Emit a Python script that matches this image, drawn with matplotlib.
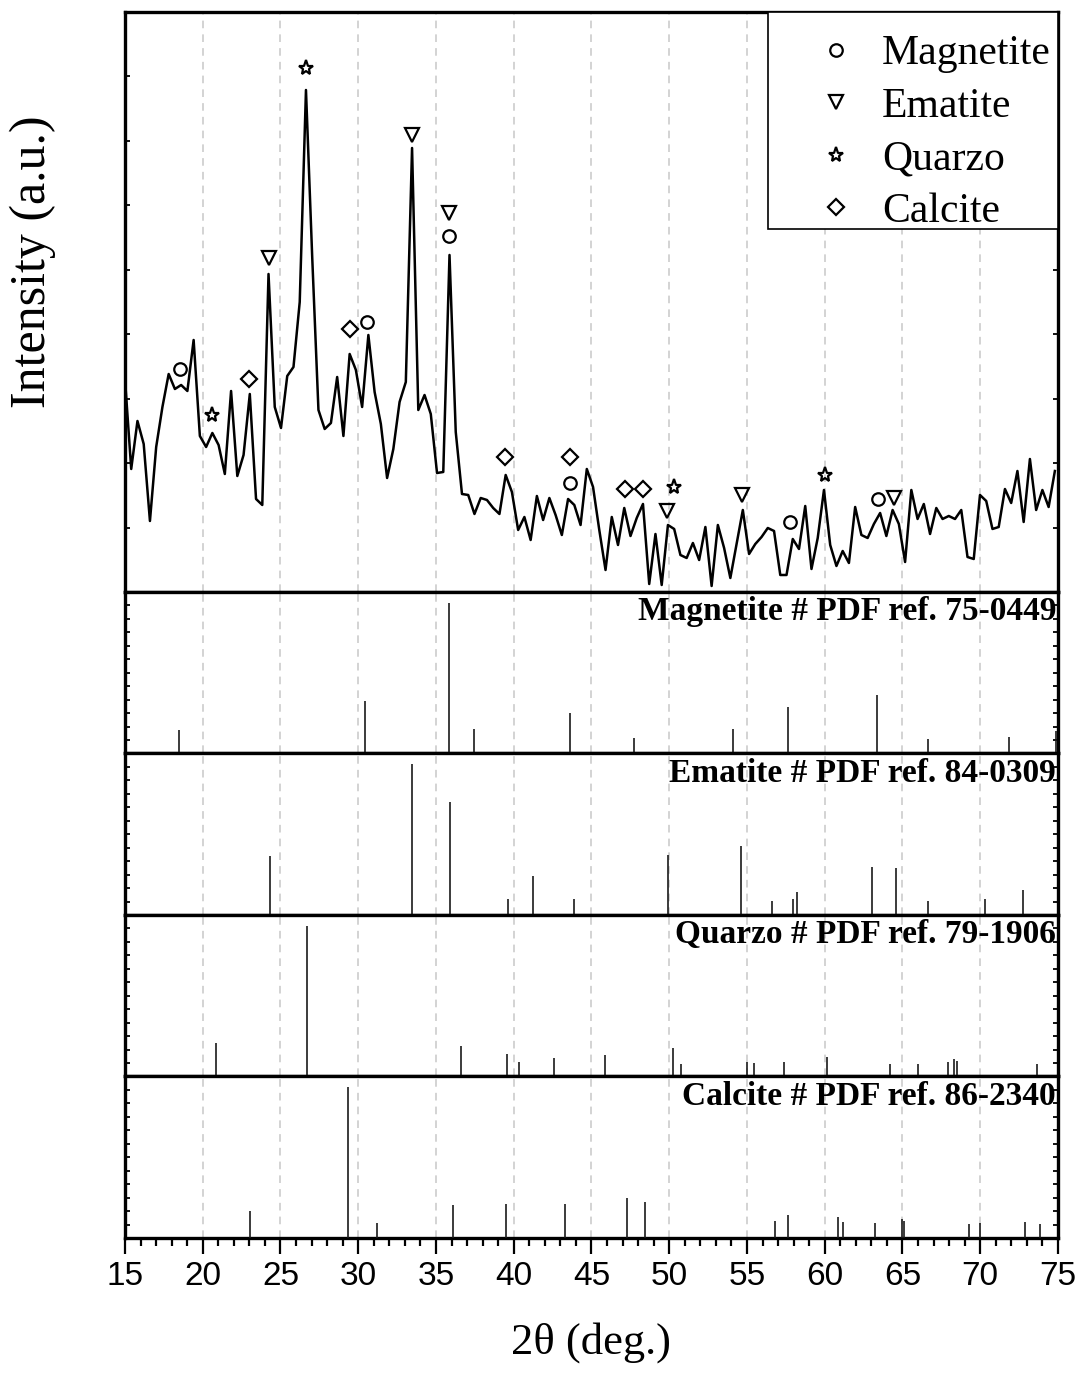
"""XRD pattern with phase markers and PDF reference stick patterns."""

import numpy as np
import matplotlib
matplotlib.use('Agg')
import matplotlib.pyplot as plt
from matplotlib.patches import Rectangle
from matplotlib.ticker import MultipleLocator, LinearLocator

SERIF = 'Liberation Serif'
SANS = 'Liberation Sans'

# =============================================================================
# measured pattern (2theta step ~0.4 deg)
two_theta = np.linspace(15.0, 74.8, 150)
intensity = [213, 123, 171, 148, 71, 145, 185, 218, 203, 207,
             201, 252, 156, 145, 159, 147, 118, 201, 116, 137,
             198, 93, 87, 318, 185, 164, 216, 225, 290, 502,
             335, 182, 163, 169, 215, 156, 238, 222, 185, 257,
             200, 168, 114, 143, 190, 210, 444, 182, 197, 178,
             119, 120, 337, 160, 98, 97, 78, 94, 92, 84,
             78, 117, 100, 62, 75, 52, 96, 72, 94, 77,
             57, 93, 87, 67, 123, 105, 62, 22, 75, 47,
             84, 56, 74, 88, 8, 58, 7, 67, 63, 37,
             34, 49, 32, 65, 6, 67, 44, 14, 48, 82,
             38, 48, 55, 64, 61, 17, 17, 53, 43, 86,
             23, 54, 102, 47, 26, 41, 29, 85, 57, 54,
             68, 79, 56, 82, 68, 30, 102, 73, 88, 58,
             84, 73, 76, 73, 82, 35, 33, 97, 91, 63,
             65, 103, 89, 121, 70, 133, 82, 102, 85, 121]

# phase markers above the peaks
mag_mk_x = [18.54, 30.56, 35.84, 43.61, 57.76, 63.44]
mag_mk_y = [223, 270, 356, 109, 70, 93]
hem_mk_x = [24.23, 33.46, 35.86, 49.88, 54.71, 64.47]
hem_mk_y = [334, 457, 379, 81, 97, 94]
qtz_mk_x = [20.62, 26.61, 50.31, 60.03]
qtz_mk_y = [177, 524, 105, 117]
cal_mk_x = [23.0, 29.49, 39.47, 43.61, 47.13, 48.33]
cal_mk_y = [213, 263, 135, 135, 103, 103]

# reference stick patterns (relative intensity %)
mag_ref_x = [18.48, 30.43, 35.86, 37.47, 43.59, 47.73, 54.1, 57.67, 63.34,
             66.62, 71.88, 74.9]
mag_ref_i = [15.3, 35, 100, 16, 27, 10, 16, 31, 39, 9.5, 11, 14.7]
hem_ref_x = [24.34, 33.48, 35.9, 39.66, 41.21, 43.85, 49.92, 54.6, 56.64,
             57.95, 58.19, 63.02, 64.56, 66.66, 70.33, 72.76]
hem_ref_i = [39, 100, 75, 10.5, 26, 10.5, 40, 45.5, 9, 10.7, 15.5, 32, 31,
             9, 10.7, 16.5]
qtz_ref_x = [20.88, 26.68, 36.62, 39.56, 40.37, 42.56, 45.9, 50.26, 50.74,
             55.03, 55.48, 57.39, 60.14, 64.2, 65.98, 67.91, 68.34, 68.5,
             73.68]
qtz_ref_i = [22.5, 100, 20.5, 15, 9.7, 12, 14, 19, 8.6, 9.6, 9.2, 9.4, 13,
             8.4, 8.4, 9.6, 11.5, 10.5, 8.6]
cal_ref_x = [23.07, 29.34, 31.18, 36.12, 39.51, 43.31, 47.26, 48.46, 56.81,
             57.65, 60.85, 61.19, 63.21, 64.97, 65.08, 69.27, 70.01, 72.91,
             73.86]
cal_ref_i = [18, 100, 10, 21.6, 22.7, 22.3, 26.4, 24, 11, 15.4, 13.6, 10.3,
             10, 12.7, 11.4, 9.3, 9.9, 10.8, 9.3]

ref_labels = ['Magnetite # PDF ref. 75-0449', 'Ematite # PDF ref. 84-0309',
              'Quarzo # PDF ref. 79-1906', 'Calcite # PDF ref. 86-2340']
phase_names = ['Magnetite', 'Ematite', 'Quarzo', 'Calcite']

# =============================================================================

fig = plt.figure(figsize=(10.83, 13.78), dpi=100)
gs = fig.add_gridspec(5, 1, height_ratios=[580, 161.5, 161.5, 161.5, 161.5],
                      hspace=0, left=0.1154, right=0.9769,
                      top=0.9913, bottom=0.1016)
axes = [fig.add_subplot(gs[k]) for k in range(5)]
for ax in axes[1:]:
    ax.sharex(axes[0])

for ax in axes:
    ax.set_xlim(15, 75)
    ax.xaxis.set_major_locator(MultipleLocator(5))
    ax.xaxis.set_minor_locator(MultipleLocator(1))
    ax.grid(axis='x', which='major', color='#c8c8c8', ls=(0, (5, 4)), lw=1.1)
    ax.set_axisbelow(True)
    for sp in ax.spines.values():
        sp.set_linewidth(2.4)
    ax.tick_params(axis='y', which='both', direction='in', left=True,
                   right=True, labelleft=False, length=3.5, width=1.3)
    ax.tick_params(axis='x', which='both', bottom=False, top=False,
                   labelbottom=False)

# --- measured pattern
ax0 = axes[0]
ax0.plot(two_theta, intensity, color='k', lw=1.8, zorder=3)
mk = dict(ls='none', mfc='none', mec='k', mew=1.6, zorder=4)
ax0.plot(mag_mk_x, mag_mk_y, marker='o', ms=9, label=phase_names[0], **mk)
ax0.plot(hem_mk_x, hem_mk_y, marker='v', ms=10, label=phase_names[1], **mk)
ax0.plot(qtz_mk_x, qtz_mk_y, marker='*', ms=11, label=phase_names[2], **mk)
ax0.plot(cal_mk_x, cal_mk_y, marker='D', ms=8, label=phase_names[3], **mk)
ax0.set_ylim(0, 580)
ax0.yaxis.set_major_locator(LinearLocator(10))

# legend box drawn separately so the rows can sit lower inside it
ax0.add_patch(Rectangle((0.6892, 0.6259), 0.3108, 0.3741,
                        transform=ax0.transAxes, fc='white', ec='k',
                        lw=1.2, zorder=5))
leg = ax0.legend(loc='upper left', bbox_to_anchor=(0.717, 0.961),
                 frameon=False, prop={'family': SERIF, 'size': 30},
                 handlelength=2.0, handletextpad=0.11, labelspacing=0.336,
                 borderpad=0, borderaxespad=0)
leg.set_zorder(6)

# --- reference sticks
refs = [(mag_ref_x, mag_ref_i), (hem_ref_x, hem_ref_i),
        (qtz_ref_x, qtz_ref_i), (cal_ref_x, cal_ref_i)]
for ax, (rx, ri), lab in zip(axes[1:], refs, ref_labels):
    ax.vlines(rx, 0, ri, color='#1a1a1a', lw=1.2, zorder=3)
    ax.set_ylim(0, 107)
    ax.yaxis.set_major_locator(LinearLocator(13))
    ax.text(0.998, 0.975, lab, transform=ax.transAxes, ha='right', va='top',
            fontsize=24, fontweight='bold', family=SERIF, zorder=5)

# --- bottom axis
axb = axes[-1]
axb.tick_params(axis='x', which='both', bottom=True, labelbottom=True,
                direction='out', width=1.6, pad=5)
axb.tick_params(axis='x', which='major', length=11.5)
axb.tick_params(axis='x', which='minor', length=5.8)
for t in axb.get_xticklabels():
    t.set_family(SANS)
    t.set_fontsize(24)
axb.set_xlabel('2θ (deg.)', family=SERIF, fontsize=32, labelpad=22)

fig.text(0.030, 1 - 262 / 1378, 'Intensity (a.u.)', rotation=90,
         ha='center', va='center', family=SERIF, fontsize=36)

fig.savefig('out.png', dpi=100)
